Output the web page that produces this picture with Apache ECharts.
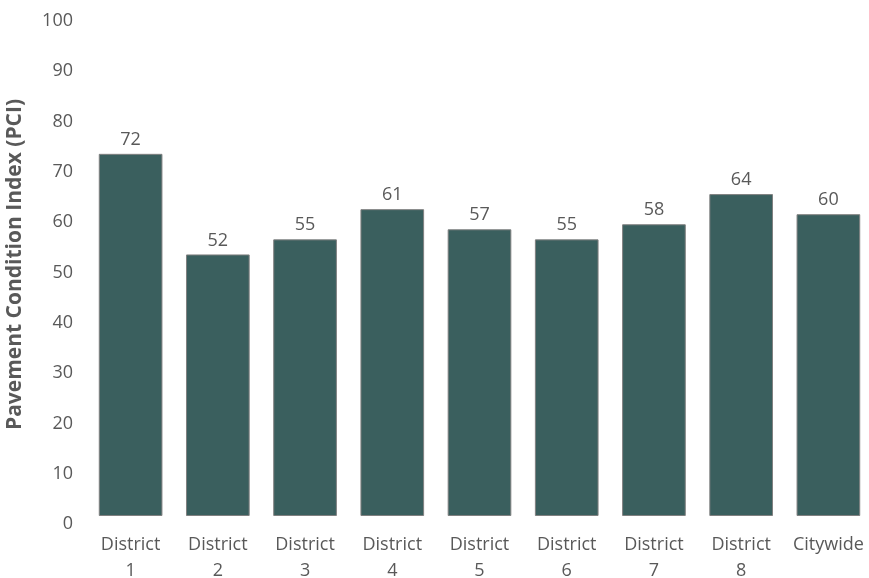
<!DOCTYPE html>
<html>
<head>
<meta charset="utf-8">
<script src="https://cdn.jsdelivr.net/npm/echarts@6/dist/echarts.min.js"></script>
<style>
html,body{margin:0;padding:0;background:#fff;}
#chart{width:869px;height:578px;}
</style>
</head>
<body>
<div id="chart"></div>
<script>
const categories = ["District\n1","District\n2","District\n3","District\n4","District\n5","District\n6","District\n7","District\n8","Citywide"];
const pciValues = [72, 52, 55, 61, 57, 55, 58, 64, 60];
const yTicks = {min: 0, max: 100, interval: 10};
const yAxisTitle = "Pavement Condition Index (PCI)";

const chart = echarts.init(document.getElementById('chart'));
const font = "'Open Sans', 'Noto Sans', sans-serif";
chart.setOption({
  animation: false,
  backgroundColor: '#ffffff',
  grid: {left: 87, right: -3, top: 13, bottom: 62, containLabel: false, outerBoundsMode: 'none'},
  xAxis: {
    type: 'category',
    data: categories,
    axisLine: {show: false},
    axisTick: {show: false},
    axisLabel: {color: '#595959', fontSize: 18, fontFamily: font, lineHeight: 26, margin: 16, interval: 0}
  },
  yAxis: {
    type: 'value',
    min: yTicks.min, max: yTicks.max, interval: yTicks.interval,
    name: yAxisTitle,
    nameLocation: 'middle',
    nameGap: 61,
    nameTextStyle: {color: '#595959', fontSize: 21, fontWeight: 'bold', fontFamily: font},
    splitLine: {show: false},
    axisLine: {show: false},
    axisTick: {show: false},
    axisLabel: {color: '#595959', fontSize: 18, fontFamily: font, margin: 14, verticalAlign: 'top', lineHeight: 16}
  },
  series: [{
    type: 'bar',
    data: pciValues,
    barCategoryGap: '27%',
    itemStyle: {color: '#3a5f5e', borderColor: '#808080', borderWidth: 1},
    label: {show: true, position: 'top', distance: 5, color: '#595959', fontSize: 18, fontFamily: font}
  }]
});
</script>
</body>
</html>
